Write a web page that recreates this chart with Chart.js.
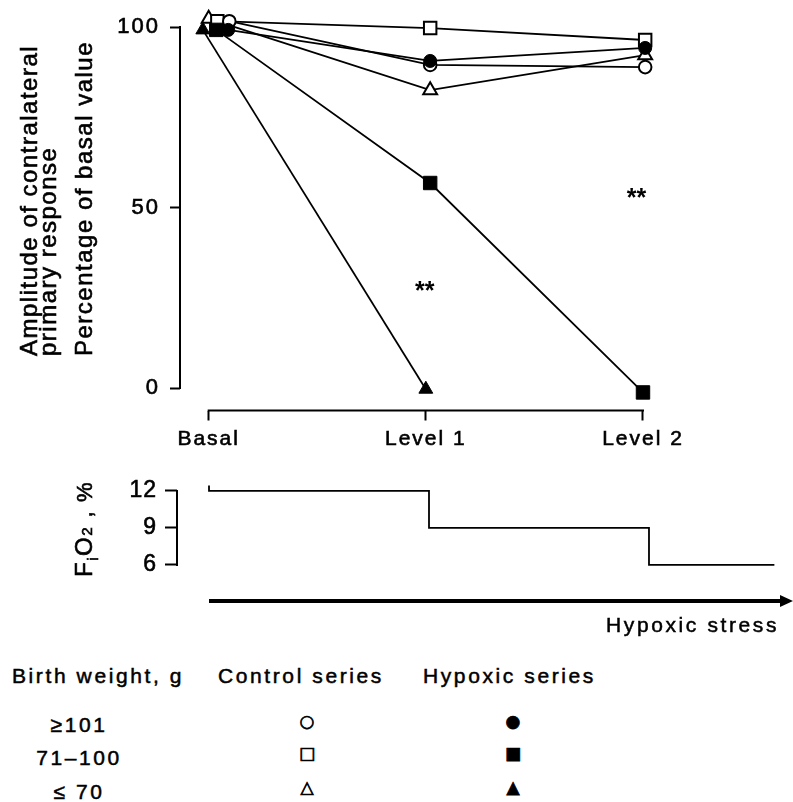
<!DOCTYPE html>
<html>
<head>
<meta charset="utf-8">
<title>Contralateral primary response under hypoxic stress</title>
<script src="https://cdn.jsdelivr.net/npm/chart.js@4.4.0/dist/chart.umd.min.js"></script>
<style>
    html, body { margin: 0; padding: 0; background: #fff; }
    #page { position: relative; width: 793px; height: 802px; overflow: hidden;
            font-family: "Liberation Sans", Arial, Helvetica, sans-serif; color: #000; }
    #page canvas { position: absolute; left: 0; }
    .txt { position: absolute; font-size: 21px; line-height: 21px; letter-spacing: 2.6px; white-space: nowrap;
           -webkit-text-stroke: 0.5px #000; }
    .sym { position: absolute; width: 24px; text-align: center; font-family: "DejaVu Sans", sans-serif;
           font-size: 17px; line-height: 17px; -webkit-text-stroke: 0.7px #000; }
</style>
</head>
<body>
<div id="page">
    <canvas id="responseChart" width="793" height="460" style="top:0"></canvas>
    <canvas id="fio2Chart" width="793" height="200" style="top:460px"></canvas>
    <div class="txt" style="right:14px; top:614px">Hypoxic stress</div>
    <div id="legend"></div>
</div>
<script>
// ---- data ----
const stageLabels = ['Basal', 'Level 1', 'Level 2'];
const stageTicks = [0, 1, 2];
const responseTicks = [0, 50, 100];

// control series (open markers)
const ctrlHeavyX = [0.095, 1.02, 2.01];
const ctrlHeavyY = [101.6, 89.5, 88.9];
const ctrlMidX = [0.04, 1.02, 2.01];
const ctrlMidY = [101.6, 99.7, 96.4];
const ctrlLightX = [0.0, 1.02, 2.01];
const ctrlLightY = [102.3, 82.5, 92.2];

// hypoxic series (filled markers)
const hypHeavyX = [0.09, 1.02, 2.01];
const hypHeavyY = [99.2, 90.6, 94.2];
const hypMidX = [0.035, 1.02, 2.0];
const hypMidY = [99.2, 56.8, -1.2];
const hypLightX = [-0.027, 1.0];
const hypLightY = [99.2, -0.3];

// ** significance marks
const starX = [0.995, 1.97];
const starY = [28.5, 54.3];

// inspired O2 fraction, %
const fio2X = [0, 0, 1, 2, 2.57];
const fio2Y = [12.45, 12, 9, 6, 6];
const fio2Ticks = [6, 9, 12];

// legend
const weightGroups = ['\u2265101', '71\u2013100', '\u2264 70'];
const controlSymbols = ['\u25CB', '\u25A1', '\u25B3'];
const hypoxicSymbols = ['\u25CF', '\u25A0', '\u25B2'];

const FONT = '"Liberation Sans", Arial, Helvetica, sans-serif';

function pts(xs, ys) {
    return xs.map((x, i) => ({ x: x, y: ys[i] }));
}

function series(label, xs, ys, style, filled, radius) {
    return {
        label: label,
        data: pts(xs, ys),
        borderColor: '#000',
        borderWidth: 1.8,
        tension: 0,
        fill: false,
        clip: false,
        pointStyle: style,
        pointRadius: radius,
        pointHoverRadius: radius,
        pointBackgroundColor: filled ? '#000' : '#fff',
        pointBorderColor: '#000',
        pointBorderWidth: filled ? 1 : 2
    };
}

function drawRotated(ctx, text, x, y, size, spacing) {
    ctx.save();
    ctx.translate(x, y);
    ctx.rotate(-Math.PI / 2);
    ctx.font = size + 'px ' + FONT;
    ctx.letterSpacing = spacing;
    ctx.fillStyle = '#000';
    ctx.strokeStyle = '#000';
    ctx.lineWidth = 0.6;
    ctx.textAlign = 'left';
    ctx.textBaseline = 'alphabetic';
    ctx.fillText(text, 0, 0);
    ctx.strokeText(text, 0, 0);
    ctx.restore();
}

const tickFont = size => ({ family: FONT, size: size });

// ---- upper chart: amplitude ----
const responseDecor = {
    id: 'responseDecor',
    beforeUpdate(chart) { chart.ctx.letterSpacing = '2px'; },
    beforeDraw(chart) { chart.ctx.letterSpacing = '2px'; },
    beforeDatasetsDraw(chart) {
        const { ctx, chartArea, scales: { x, y } } = chart;
        ctx.save();
        ctx.strokeStyle = '#000';
        ctx.lineWidth = 2;
        ctx.beginPath();
        ctx.moveTo(chartArea.left, y.getPixelForValue(responseTicks[responseTicks.length - 1]) - 1);
        ctx.lineTo(chartArea.left, y.getPixelForValue(responseTicks[0]) + 1);
        ctx.moveTo(x.getPixelForValue(stageTicks[0]) - 1, chartArea.bottom);
        ctx.lineTo(x.getPixelForValue(stageTicks[stageTicks.length - 1]) + 1, chartArea.bottom);
        ctx.stroke();
        ctx.restore();
    },
    afterDatasetsDraw(chart) {
        const { ctx, scales: { x, y } } = chart;
        ctx.save();
        ctx.font = 'bold 25px ' + FONT;
        ctx.letterSpacing = '0px';
        ctx.fillStyle = '#000';
        ctx.textAlign = 'center';
        ctx.textBaseline = 'alphabetic';
        starX.forEach((sx, i) => {
            ctx.fillText('**', x.getPixelForValue(sx), y.getPixelForValue(starY[i]) + 14);
        });
        ctx.restore();
    },
    afterDraw(chart) {
        const ctx = chart.ctx;
        drawRotated(ctx, 'Amplitude of contralateral', 37, 356, 24, '1.5px');
        drawRotated(ctx, 'primary response', 56, 356, 24, '1.5px');
        drawRotated(ctx, 'Percentage of basal value', 92, 356, 24, '1.5px');
    }
};

new Chart(document.getElementById('responseChart'), {
    type: 'line',
    data: {
        datasets: [
            series('Hypoxic \u2265101 g', hypHeavyX, hypHeavyY, 'circle', true, 6.5),
            series('Hypoxic 71\u2013100 g', hypMidX, hypMidY, 'rect', true, 9.5),
            series('Hypoxic \u226470 g', hypLightX, hypLightY, 'triangle', true, 8),
            series('Control \u2265101 g', ctrlHeavyX, ctrlHeavyY, 'circle', false, 6.3),
            series('Control 71\u2013100 g', ctrlMidX, ctrlMidY, 'rect', false, 8.8),
            series('Control \u226470 g', ctrlLightX, ctrlLightY, 'triangle', false, 8)
        ]
    },
    options: {
        responsive: false,
        animation: false,
        devicePixelRatio: 1,
        events: [],
        layout: { padding: { top: 27, right: 3, left: 0, bottom: 0 } },
        plugins: { legend: { display: false }, tooltip: { enabled: false } },
        scales: {
            x: {
                type: 'linear',
                min: -0.132,
                max: 2.641,
                afterBuildTicks: s => { s.ticks = stageTicks.map(v => ({ value: v })); },
                afterFit: s => { s.height = 49.5; },
                border: { display: false },
                grid: { drawOnChartArea: false, drawTicks: true, tickLength: 10,
                        tickColor: '#000', tickWidth: 2, color: '#000' },
                ticks: {
                    color: '#000', padding: 6, autoSkip: false, maxRotation: 0,
                    textStrokeColor: '#000', textStrokeWidth: 0.6,
                    font: tickFont(21),
                    callback: v => stageLabels[stageTicks.indexOf(v)] || ''
                }
            },
            y: {
                type: 'linear',
                min: -6.2,
                max: 100,
                afterBuildTicks: s => { s.ticks = responseTicks.map(v => ({ value: v })); },
                afterFit: s => { s.width = 180; },
                border: { display: false },
                grid: { drawOnChartArea: false, drawTicks: true, tickLength: 10,
                        tickColor: '#000', tickWidth: 2, color: '#000' },
                ticks: { color: '#000', padding: 10, font: tickFont(22),
                         textStrokeColor: '#000', textStrokeWidth: 0.6 }
            }
        }
    },
    plugins: [responseDecor]
});

// ---- lower chart: FiO2 steps ----
const fio2Decor = {
    id: 'fio2Decor',
    beforeUpdate(chart) { chart.ctx.letterSpacing = '1px'; },
    beforeDraw(chart) { chart.ctx.letterSpacing = '1px'; },
    beforeDatasetsDraw(chart) {
        const { ctx, chartArea, scales: { y } } = chart;
        ctx.save();
        ctx.strokeStyle = '#000';
        ctx.lineWidth = 2;
        ctx.beginPath();
        ctx.moveTo(chartArea.left, y.getPixelForValue(fio2Ticks[fio2Ticks.length - 1]) - 1);
        ctx.lineTo(chartArea.left, y.getPixelForValue(fio2Ticks[0]) + 1);
        ctx.stroke();
        ctx.restore();
    },
    afterDraw(chart) {
        const { ctx, chartArea, scales: { x } } = chart;
        // hypoxic stress arrow
        const ay = chartArea.bottom + 30;
        const ax0 = x.getPixelForValue(0);
        const ax1 = chart.width;
        ctx.save();
        ctx.strokeStyle = '#000';
        ctx.fillStyle = '#000';
        ctx.lineWidth = 4;
        ctx.beginPath();
        ctx.moveTo(ax0, ay);
        ctx.lineTo(ax1 - 10, ay);
        ctx.stroke();
        ctx.beginPath();
        ctx.moveTo(ax1 - 13, ay - 6);
        ctx.lineTo(ax1, ay);
        ctx.lineTo(ax1 - 13, ay + 6);
        ctx.closePath();
        ctx.fill();
        ctx.restore();

        // F(i)O(2), % title, rotated
        const parts = [
            { t: 'F', size: 24, dy: 0 },
            { t: 'i', size: 15, dy: 6 },
            { t: 'O', size: 24, dy: 0 },
            { t: '2', size: 15, dy: 0 },
            { t: ' ,', size: 24, dy: 0 },
            { t: ' %', size: 22, dy: 0 }
        ];
        ctx.save();
        ctx.translate(92, 117);
        ctx.rotate(-Math.PI / 2);
        ctx.fillStyle = '#000';
        ctx.strokeStyle = '#000';
        ctx.lineWidth = 0.6;
        ctx.textAlign = 'left';
        ctx.textBaseline = 'alphabetic';
        ctx.letterSpacing = '1.5px';
        let pos = 0;
        parts.forEach(p => {
            ctx.font = p.size + 'px ' + FONT;
            ctx.fillText(p.t, pos, p.dy);
            ctx.strokeText(p.t, pos, p.dy);
            pos += ctx.measureText(p.t).width;
        });
        ctx.restore();
    }
};

new Chart(document.getElementById('fio2Chart'), {
    type: 'line',
    data: {
        datasets: [{
            label: 'FiO2',
            data: pts(fio2X, fio2Y),
            stepped: 'before',
            borderColor: '#000',
            borderWidth: 1.8,
            pointRadius: 0,
            fill: false,
            clip: false
        }]
    },
    options: {
        responsive: false,
        animation: false,
        devicePixelRatio: 1,
        events: [],
        layout: { padding: { top: 24.8, right: 3, left: 0, bottom: 88.9 } },
        plugins: { legend: { display: false }, tooltip: { enabled: false } },
        scales: {
            x: { type: 'linear', display: false, min: -0.1455, max: 2.641 },
            y: {
                type: 'linear',
                min: 5.5,
                max: 12.5,
                afterBuildTicks: s => { s.ticks = fio2Ticks.map(v => ({ value: v })); },
                afterFit: s => { s.width = 177; },
                border: { display: false },
                grid: { drawOnChartArea: false, drawTicks: true, tickLength: 12,
                        tickColor: '#000', tickWidth: 2, color: '#000' },
                ticks: { color: '#000', padding: 8, font: tickFont(23),
                         textStrokeColor: '#000', textStrokeWidth: 0.6 }
            }
        }
    },
    plugins: [fio2Decor]
});

// ---- legend (HTML text) ----
const legend = document.getElementById('legend');
function addText(text, left, top, width, align) {
    const d = document.createElement('div');
    d.className = 'txt';
    d.textContent = text;
    d.style.left = left + 'px';
    d.style.top = top + 'px';
    if (width) { d.style.width = width + 'px'; d.style.textAlign = align; }
    legend.appendChild(d);
    return d;
}
function addSymbol(sym, cx, cy) {
    const d = document.createElement('div');
    d.className = 'sym';
    d.textContent = sym;
    d.style.left = (cx - 12) + 'px';
    d.style.top = (cy - 9) + 'px';
    legend.appendChild(d);
}
addText('Birth weight, g', 12, 665);
addText('Control series', 218, 665);
addText('Hypoxic series', 423, 665);
const rowTops = [714, 747, 781];
const rowSymY = [722, 754, 788];
weightGroups.forEach((g, i) => {
    addText(g, 19, rowTops[i], 120, 'center');
    addSymbol(controlSymbols[i], 307, rowSymY[i]);
    addSymbol(hypoxicSymbols[i], 513, rowSymY[i]);
});
</script>
</body>
</html>
